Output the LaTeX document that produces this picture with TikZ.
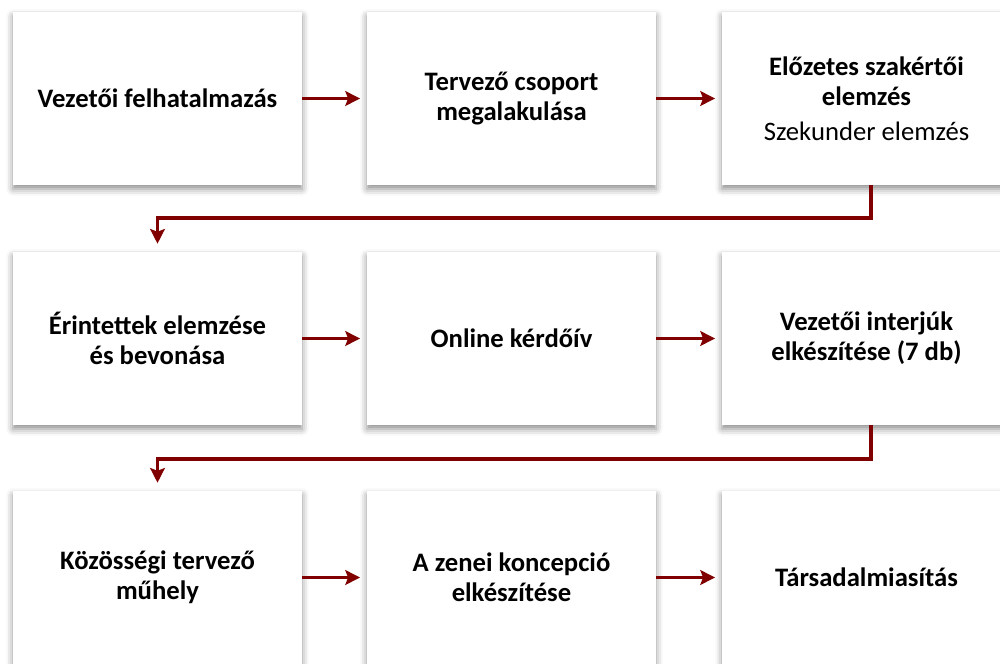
\documentclass[tikz,border=0pt]{standalone}
\usepackage{fontspec}
\setmainfont{Carlito}
\usetikzlibrary{arrows.meta,shadows.blur}
\definecolor{arrowred}{RGB}{128,0,0}

\tikzset{
  stepbox/.style={fill=white, minimum width=216.75pt, minimum height=129.75pt,
    align=center, font=\fontsize{20}{22.5}\selectfont\bfseries,
    blur shadow={shadow xshift=0pt, shadow yshift=-3pt, shadow blur radius=5pt, shadow opacity=45}},
  arr/.style={draw=arrowred, line width=2.3pt, -{Stealth[length=11pt,width=11pt,inset=2pt]},
    shorten >=5pt},
}

\begin{document}
\begin{tikzpicture}[x=0.75pt,y=-0.75pt]
		%%%%% START %%%%%
		\useasboundingbox (0,0) rectangle (1000,664);
		
		% first row
		\node[stepbox] (felhat) at (157.5,98.5) {Vezetői felhatalmazás};
		\node[stepbox] (csoport) at (511.5,98.5) {Tervező csoport\\megalakulása};
		\node[stepbox] (elozetes) at (866.5,98.5) {Előzetes szakértői\\elemzés\\[4pt]{\mdseries Szekunder elemzés}};
		
		% second row
		\node[stepbox] (erintett) at (157.5,338.5) {Érintettek elemzése\\és bevonása};
		\node[stepbox] (kerdoiv) at (511.5,338.5) {Online kérdőív};
		\node[stepbox] (interju) at (866.5,338.5) {Vezetői interjúk\\elkészítése (7 db)};
		
		% third row
		\node[stepbox] (muhely) at (157.5,577.5) {Közösségi tervező\\műhely};
		\node[stepbox] (koncepcio) at (511.5,577.5) {A zenei koncepció\\elkészítése};
		\node[stepbox] (tarsad) at (866.5,577.5) {Társadalmiasítás};
		
		\draw[arr] (felhat) -- (csoport);
		\draw[arr] (csoport) -- (elozetes);
		\draw[arr] (erintett) -- (kerdoiv);
		\draw[arr] (kerdoiv) -- (interju);
		\draw[arr] (muhely) -- (koncepcio);
		\draw[arr] (koncepcio) -- (tarsad);
		
		% turns between the rows
		\coordinate (turn1) at (871,218);
		\coordinate (turn2) at (871,459);
		\draw[arr, shorten >=6pt] (elozetes.south -| turn1) -- (turn1) -| (erintett);
		\draw[arr, shorten >=6pt] (interju.south -| turn2) -- (turn2) -| (muhely);
		%%%%% END %%%%%
\end{tikzpicture}
\end{document}
